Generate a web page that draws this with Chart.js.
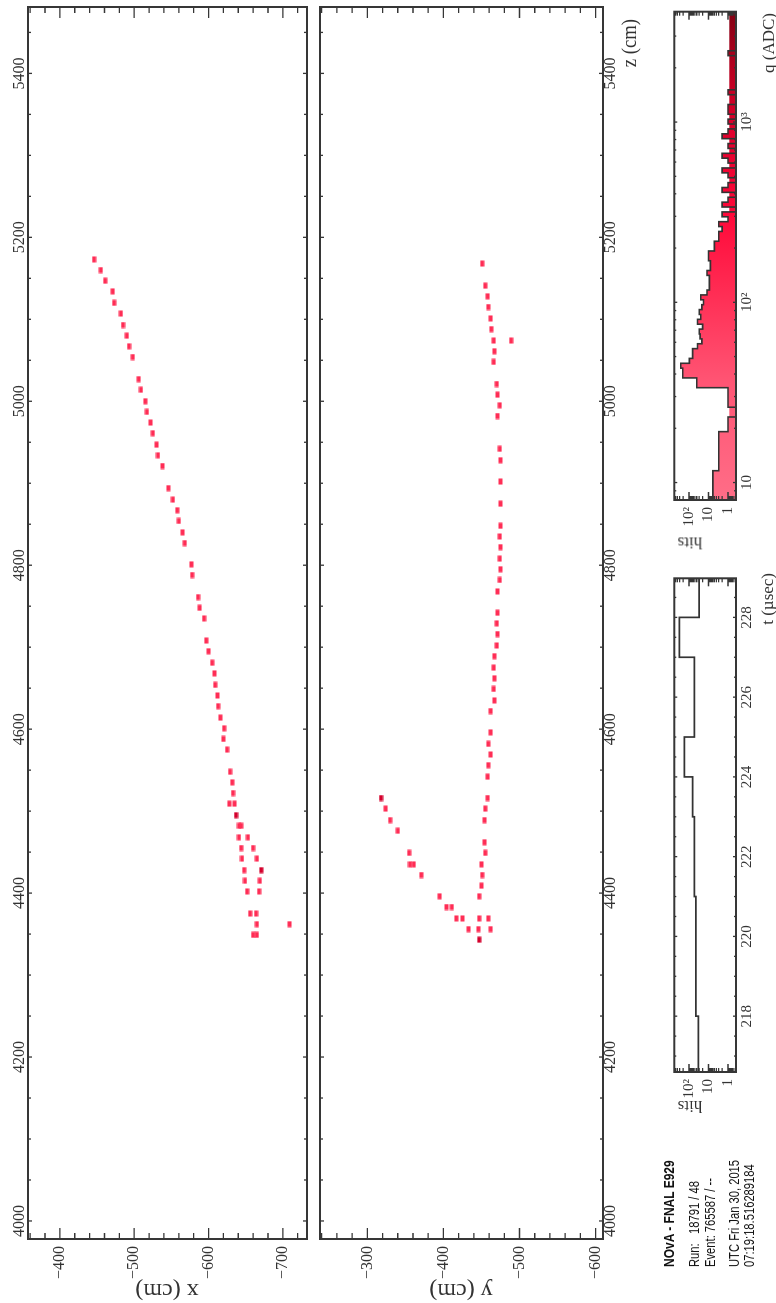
<!DOCTYPE html>
<html>
<head>
<meta charset="utf-8">
<script src="https://cdn.jsdelivr.net/npm/chart.js@4.4.1/dist/chart.umd.min.js"></script>
<style>
  html, body { margin: 0; padding: 0; background: #fff; overflow: hidden; }
  /* the display is laid out landscape and turned a quarter turn */
  #fig { position: absolute; left: 0; top: 0; width: 1303px; height: 776px; background: #fff;
         transform-origin: 0 0; transform: translate(0, 1303px) rotate(-90deg); }
  #fig canvas { position: absolute; }
  .t { position: absolute; white-space: pre; color: #333; font-family: "Liberation Serif", "Times New Roman", serif; line-height: 1; }
  .info { position: absolute; left: 36px; white-space: pre; color: #111; line-height: 1;
          font-family: "Liberation Sans", Arial, sans-serif; transform-origin: 0 50%; transform: scaleX(0.8); }
</style>
</head>
<body>
<div id="fig">
  <canvas id="cX" width="1303" height="322" style="left:0;top:0"></canvas>
  <canvas id="cY" width="1303" height="345" style="left:0;top:300px"></canvas>
  <canvas id="cT" width="600" height="126" style="left:150px;top:650px"></canvas>
  <canvas id="cQ" width="563" height="126" style="left:740px;top:650px"></canvas>

  <div class="t" style="font-size:24px;left:11px;top:167px;transform:translate(-50%,-50%) rotate(-90deg)">x (cm)</div>
  <div class="t" style="font-size:24px;left:11px;top:461px;transform:translate(-50%,-50%) rotate(-90deg)">y (cm)</div>
  <div class="t" style="font-size:22px;left:1284px;top:629px;transform:translate(-100%,-50%) scaleX(0.85);transform-origin:100% 50%">z (cm)</div>
  <div class="t" style="font-size:17px;left:730px;top:767px;transform:translate(-100%,-50%)">t (µsec)</div>
  <div class="t" style="font-size:17px;left:1290px;top:768px;transform:translate(-100%,-50%)">q (ADC)</div>
  <div class="t" style="font-size:17px;left:196px;top:690px;transform:translate(-50%,-50%) rotate(-90deg)">hits</div>
  <div class="t" style="font-size:17px;left:760px;top:690px;transform:translate(-50%,-50%) rotate(-90deg)">hits</div>

  <div class="info" style="top:661px;font-size:15px;font-weight:bold">NOvA - FNAL E929</div>
  <div class="info" style="top:687px;font-size:14px">Run:   18791 / 48</div>
  <div class="info" style="top:703px;font-size:14px">Event: 765587 / --</div>
  <div class="info" style="top:727px;font-size:14px">UTC Fri Jan 30, 2015</div>
  <div class="info" style="top:742px;font-size:14px">07:19:18.516289184</div>
</div>

<script>
// ── HITS, XZ VIEW (z cm, x cm) ────────────────────────────────
const xViewZ = [5173, 5160, 5147, 5134, 5120, 5107, 5093, 5080, 5067, 5054,
                5027, 5014, 5000, 4987, 4974, 4961, 4947, 4934, 4921,
                4894, 4880, 4867, 4854, 4840, 4827, 4801, 4788, 4761, 4748, 4735,
                4708, 4695, 4681, 4668, 4654, 4641, 4628, 4614, 4601, 4588, 4575,
                4548, 4535, 4522, 4509, 4509, 4482, 4482, 4468, 4468, 4455, 4455,
                4442, 4442, 4428, 4415, 4415, 4402, 4402, 4375, 4375, 4362, 4362, 4349, 4349];
const xViewX = [-446, -455, -461, -471, -473, -482, -485, -490, -493, -498,
                -506, -509, -515, -517, -522, -525, -530, -532, -538,
                -546, -552, -558, -560, -565, -568, -577, -578, -586, -588, -594,
                -597, -600, -605, -608, -609, -612, -613, -616, -621, -620, -625,
                -629, -632, -633, -628, -635, -641, -644, -641, -653, -644, -660,
                -645, -665, -648, -649, -669, -652, -668, -656, -664, -665, -709, -660, -665];
const xViewDarkZ = [4495, 4428];
const xViewDarkX = [-637, -671];

// ── HITS, YZ VIEW (z cm, y cm) ────────────────────────────────
const yViewZ = [5168, 5141, 5128, 5115, 5101, 5088, 5074, 5074, 5061, 5048,
                5021, 5008, 4995, 4982, 4942, 4928, 4902, 4875, 4848, 4835, 4822,
                4808, 4795, 4782, 4768, 4742, 4729, 4716, 4702, 4689, 4675, 4662,
                4649, 4635, 4622, 4596, 4582, 4569, 4556, 4542, 4516, 4503, 4489,
                4462, 4449, 4435, 4422, 4409, 4396, 4369, 4369, 4356, 4356,
                4503, 4489, 4476, 4449, 4435, 4435, 4422, 4396, 4383, 4383, 4369, 4369, 4356];
const yViewY = [-451, -455, -458, -459, -462, -463, -466, -489, -467, -466,
                -470, -471, -474, -471, -474, -475, -475, -475, -475, -474, -475,
                -474, -475, -474, -471, -471, -470, -471, -470, -467, -466, -467,
                -466, -467, -462, -462, -459, -462, -459, -458, -458, -455, -454,
                -454, -455, -450, -451, -450, -447, -447, -459, -446, -462,
                -324, -330, -340, -355, -356, -361, -371, -395, -404, -411, -417, -425, -433];
const yViewDarkZ = [4343, 4516];
const yViewDarkY = [-447, -318];

// ── HISTOGRAMS ────────────────────────────────────────────────
const tEdges  = [216, 217, 218, 219, 220, 221, 222, 223, 224, 225, 226, 227, 228, 229];
const tCounts = [33, 33, 44, 44, 44, 53, 53, 65, 174, 53, 53, 314, 30];

const qLow = 8, qHigh = 4096;   // ADC range, 100 log bins
const qCounts = [6, 6, 6, 6, 6, 6, 3, 3, 3, 3, 3, 3, 3, 3, 1, 1, 1, 0, 0, 1, 1, 1, 1,
                 40, 40, 210, 210, 267, 96, 65, 65,
                 37, 22, 27, 30, 20, 37, 25, 30, 22, 18, 25, 12,
                 9, 9, 9, 12, 8, 8, 10, 10, 5, 5, 3, 3,
                 2, 3, 1, 2, 0, 2, 1, 0, 2, 1, 0, 1, 2, 0, 1, 2, 0, 1, 0, 2, 1, 0, 1, 0, 1, 1, 0, 0, 1,
                 0, 0, 0, 0, 0, 0, 0, 1, 0, 0, 0, 0, 0, 0, 0, 0];

// ── AXES ──────────────────────────────────────────────────────
const zTicks   = [4000, 4200, 4400, 4600, 4800, 5000, 5200, 5400];
const xTicks   = [-700, -600, -500, -400];
const yTicks   = [-600, -500, -400, -300];
const tTicks   = [218, 220, 222, 224, 226, 228];
const qTicks   = [10, 100, 1000];
const hitTicks = [1, 10, 100];
const hitMin = 0.39, hitMax = 567;
const bandTop = 0.86;   // top of the colour-scale strip under the q histogram

const SERIF = '"Liberation Serif", "Times New Roman", serif';
const TXT   = '#333';
const FRAME = '#363636';
const HIT      = '#ff2d55';
const HIT_DARK = '#d4002c';
const PALETTE = [[0, '#ff6d87'], [0.24, '#ff5574'], [0.4, '#ff3258'], [0.58, '#ff0a3a'],
                 [0.77, '#dc002b'], [0.88, '#b6001f'], [1, '#820012']];

const sup = { 1: '1', 10: '10', 100: '10\u00b2', 1000: '10\u00b3' };

function steps(from, to, step, skip) {
    const out = [];
    for (let v = from; v <= to + 1e-9; v += step) {
        const r = Math.round(v * 100) / 100;
        if (!skip.includes(r)) out.push(r);
    }
    return out;
}
function logMinor(lo, hi) {
    const out = [];
    for (let d = 0.1; d <= 1000; d *= 10) {
        for (let k = 2; k <= 9; k++) {
            const v = Math.round(k * d * 1000) / 1000;
            if (v >= lo && v <= hi) out.push(v);
        }
    }
    return out;
}

// one detector cell, soft edges like the reference
function hitRect(color) {
    const c = document.createElement('canvas');
    c.width = 7; c.height = 5;
    const g = c.getContext('2d');
    g.fillStyle = color;
    g.fillRect(0.5, 0.5, 6, 4);
    return c;
}
const pts = (xs, ys) => xs.map((x, i) => ({ x: x, y: ys[i] }));

function qPalette(chart) {
    const a = chart.chartArea;
    if (!a) return 'rgba(0,0,0,0)';
    const g = chart.ctx.createLinearGradient(a.left, 0, a.right, 0);
    PALETTE.forEach(([p, c]) => g.addColorStop(p, c));
    return g;
}

// frame with inward ticks on all four sides
function rootFrame(spec) {
    return {
        id: 'rootFrame',
        afterDatasetsDraw(chart) {
            const { ctx, chartArea: a, scales: { x, y } } = chart;
            ctx.save();
            ctx.strokeStyle = FRAME;
            ctx.lineWidth = 1.3;
            ctx.beginPath();
            const mark = (vals, len, horiz) => vals.forEach(v => {
                if (horiz) {
                    const p = x.getPixelForValue(v);
                    if (p < a.left + 1 || p > a.right - 1) return;
                    ctx.moveTo(p, a.top);    ctx.lineTo(p, a.top + len);
                    ctx.moveTo(p, a.bottom); ctx.lineTo(p, a.bottom - len);
                } else {
                    const p = y.getPixelForValue(v);
                    if (p < a.top + 1 || p > a.bottom - 1) return;
                    ctx.moveTo(a.left, p);  ctx.lineTo(a.left + len, p);
                    ctx.moveTo(a.right, p); ctx.lineTo(a.right - len, p);
                }
            });
            mark(spec.xMajor, spec.xLen[0], true);
            mark(spec.xMinor, spec.xLen[1], true);
            mark(spec.yMajor, spec.yLen[0], false);
            mark(spec.yMinor, spec.yLen[1], false);
            ctx.stroke();
            ctx.lineWidth = 2;
            ctx.strokeRect(a.left, a.top, a.right - a.left, a.bottom - a.top);
            ctx.restore();
        }
    };
}

const qBand = {
    id: 'qBand',
    beforeDatasetsDraw(chart) {
        const a = chart.chartArea;
        const top = chart.scales.y.getPixelForValue(bandTop);
        chart.ctx.save();
        chart.ctx.fillStyle = qPalette(chart);
        chart.ctx.fillRect(a.left, top, a.right - a.left, a.bottom - top);
        chart.ctx.restore();
    }
};

function axisFont(size) { return { family: SERIF, size: size, lineHeight: 1 }; }
const minus = v => (v < 0 ? '\u2212' + Math.abs(v) : String(v));

// ── EVENT VIEWS ───────────────────────────────────────────────
function eventChart(id, hits, darkHits, zPos, vMin, vMax, vTicks) {
    const top = zPos === 'top';
    new Chart(document.getElementById(id), {
        type: 'scatter',
        data: {
            datasets: [
                { data: hits,     pointStyle: hitRect(HIT),      pointRadius: 3 },
                { data: darkHits, pointStyle: hitRect(HIT_DARK), pointRadius: 3 }
            ]
        },
        options: {
            responsive: false, animation: false, devicePixelRatio: 1, events: [],
            layout: { padding: top ? { left: 0, top: 0, right: 7, bottom: 5 }
                                   : { left: 0, top: 20, right: 7, bottom: 0 } },
            plugins: { legend: { display: false }, tooltip: { enabled: false } },
            scales: {
                x: {
                    type: 'linear', position: zPos, min: 3978, max: 5481, bounds: 'data',
                    afterFit: s => { s.height = top ? 28 : 42; },
                    afterBuildTicks: s => { s.ticks = zTicks.map(v => ({ value: v })); },
                    grid: { display: false, drawTicks: false }, border: { display: false },
                    ticks: { autoSkip: false, maxRotation: 0, padding: 0, color: TXT,
                             font: axisFont(16), callback: v => String(v) }
                },
                y: {
                    type: 'linear', min: vMin, max: vMax, bounds: 'data',
                    afterFit: s => { s.width = 64; },
                    afterBuildTicks: s => { s.ticks = vTicks.map(v => ({ value: v })); },
                    grid: { display: false, drawTicks: false }, border: { display: false },
                    ticks: { autoSkip: false, padding: 7, color: TXT, font: axisFont(16), callback: minus }
                }
            }
        },
        plugins: [rootFrame({
            xMajor: zTicks, xMinor: steps(3950, 5500, 50, zTicks), xLen: [4, 3],
            yMajor: vTicks, yMinor: steps(-720, -240, 20, vTicks), yLen: [11, 6]
        })]
    });
}

eventChart('cX', pts(xViewZ, xViewX), pts(xViewDarkZ, xViewDarkX), 'top', -732.5, -357.1, xTicks);
eventChart('cY', pts(yViewZ, yViewY), pts(yViewDarkZ, yViewDarkY), 'bottom', -609.7, -237.8, yTicks);

// ── HISTOGRAMS ────────────────────────────────────────────────
function histChart(id, line, xOpts, yWidth, padRight, extraPlugins, xMajor, xMinor) {
    new Chart(document.getElementById(id), {
        type: 'line',
        data: { datasets: [line] },
        options: {
            responsive: false, animation: false, devicePixelRatio: 1, events: [],
            layout: { padding: { left: 0, top: 24.3, right: padRight, bottom: 0 } },
            plugins: { legend: { display: false }, tooltip: { enabled: false } },
            scales: {
                x: Object.assign({
                    position: 'bottom', bounds: 'data',
                    afterFit: s => { s.height = 40; },
                    grid: { display: false, drawTicks: false }, border: { display: false }
                }, xOpts),
                y: {
                    type: 'logarithmic', min: hitMin, max: hitMax, bounds: 'data',
                    afterFit: s => { s.width = yWidth; },
                    afterBuildTicks: s => { s.ticks = hitTicks.map(v => ({ value: v })); },
                    grid: { display: false, drawTicks: false }, border: { display: false },
                    ticks: { autoSkip: false, padding: 7, color: TXT, font: axisFont(15), callback: v => sup[v] }
                }
            }
        },
        plugins: extraPlugins.concat([rootFrame({
            xMajor: xMajor, xMinor: xMinor, xLen: [3, 2],
            yMajor: hitTicks, yMinor: logMinor(hitMin, hitMax), yLen: [8, 4]
        })])
    });
}

// time histogram
histChart('cT', {
    data: tEdges.map((t, i) => ({ x: t, y: tCounts[Math.min(i, tCounts.length - 1)] })),
    stepped: 'before', borderColor: '#333', borderWidth: 1.7, pointRadius: 0, fill: false
}, {
    type: 'linear', min: 216.6, max: 228.98,
    afterBuildTicks: s => { s.ticks = tTicks.map(v => ({ value: v })); },
    ticks: { autoSkip: false, maxRotation: 0, padding: 3.5, color: TXT, font: axisFont(15), callback: v => String(v) }
}, 81, 25.3, [], tTicks, steps(216.5, 229, 0.5, tTicks));

// charge histogram
const qEdges = qCounts.map((_, i) => qLow * Math.pow(qHigh / qLow, i / qCounts.length)).concat([qHigh]);
histChart('cQ', {
    data: qEdges.map((q, i) => ({ x: q, y: Math.max(qCounts[Math.min(i, qCounts.length - 1)], hitMin) })),
    stepped: 'before', borderColor: '#333', borderWidth: 1.6, pointRadius: 0,
    fill: 'start', backgroundColor: ctx => qPalette(ctx.chart)
}, {
    type: 'logarithmic', min: qLow, max: qHigh,
    afterBuildTicks: s => { s.ticks = qTicks.map(v => ({ value: v })); },
    ticks: { autoSkip: false, maxRotation: 0, padding: 3.5, color: TXT, font: axisFont(15), callback: v => sup[v] }
}, 63, 11.7, [qBand], qTicks, logMinor(qLow, qHigh).concat([8, 9]));
</script>
</body>
</html>
